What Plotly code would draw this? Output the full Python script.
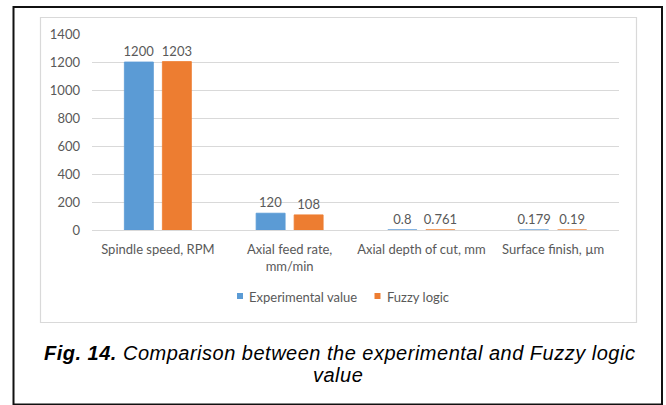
import plotly.graph_objects as go

# Parameters compared
categories = ["Spindle speed, RPM", "Axial feed rate,<br>mm/min",
              "Axial depth of cut, mm", "Surface finish, µm"]
experimental = [1200, 120, 0.8, 0.179]
fuzzy = [1203, 108, 0.761, 0.19]
series_names = ["Experimental value", "Fuzzy logic"]
y_ticks = [0, 200, 400, 600, 800, 1000, 1200, 1400]

W, H = 666, 405
# plot area in pixels
PL, PR, PT, PB = 92, 619, 34, 230
PW, PH = PR - PL, PB - PT


def px(x):
    return (x - PL) / PW


def py(y):
    return (PB - y) / PH


TXT = "#595959"
FONT = "Lato"
FS = 13
BLUE, ORANGE = "#5B9BD5", "#ED7D31"

fig = go.Figure()
for name, vals, col in [(series_names[0], experimental, BLUE),
                        (series_names[1], fuzzy, ORANGE)]:
    fig.add_trace(go.Bar(
        name=name, x=categories, y=vals,
        marker=dict(color=col, line=dict(color=col, width=0.8)),
        text=[str(v) for v in vals], textposition="outside",
        constraintext="none",
        textfont=dict(color=TXT, size=FS, family=FONT), cliponaxis=False,
        showlegend=False,
    ))

shapes = [
    # chart frame
    dict(type="rect", xref="paper", yref="paper",
         x0=px(40.5), x1=px(636.5), y0=py(17.5), y1=py(322.5),
         line=dict(color="#D9D9D9", width=1.2), fillcolor="rgba(0,0,0,0)"),
    # outer figure border
    dict(type="rect", xref="paper", yref="paper",
         x0=px(13.5), x1=px(662), y0=py(7), y1=py(404.5),
         line=dict(color="#111111", width=2), fillcolor="rgba(0,0,0,0)"),
    # legend swatches
    dict(type="rect", xref="paper", yref="paper",
         x0=px(237), x1=px(243), y0=py(293), y1=py(299),
         line=dict(width=0), fillcolor=BLUE),
    dict(type="rect", xref="paper", yref="paper",
         x0=px(374.5), x1=px(380.5), y0=py(293), y1=py(299),
         line=dict(width=0), fillcolor=ORANGE),
]

cap_font = dict(family="Liberation Sans", size=20, color="#000000")
annotations = [
    dict(xref="paper", yref="paper", x=px(247), y=py(296.5),
         xanchor="left", yanchor="middle", showarrow=False,
         text=series_names[0], font=dict(family=FONT, size=FS, color=TXT)),
    dict(xref="paper", yref="paper", x=px(385), y=py(296.5),
         xanchor="left", yanchor="middle", showarrow=False,
         text=series_names[1], font=dict(family=FONT, size=FS, color=TXT)),
    dict(xref="paper", yref="paper", x=px(339), y=py(352.5),
         xanchor="center", yanchor="middle", showarrow=False,
         text="<span style='letter-spacing:0.5px'><b><i>Fig. 14.</i></b>"
              "<i> Comparison between the experimental and Fuzzy logic</i></span>",
         font=cap_font),
    dict(xref="paper", yref="paper", x=px(338), y=py(374.5),
         xanchor="center", yanchor="middle", showarrow=False,
         text="<span style='letter-spacing:0.5px'><i>value</i></span>",
         font=cap_font),
]

fig.update_layout(
    width=W, height=H,
    margin=dict(l=PL, r=W - PR, t=PT, b=H - PB, autoexpand=False),
    paper_bgcolor="white", plot_bgcolor="white",
    barmode="group", bargap=0.423, bargroupgap=0.237,
    font=dict(family=FONT, color=TXT, size=FS),
    showlegend=False,
    shapes=shapes, annotations=annotations,
)
fig.update_xaxes(showgrid=False, showline=False, ticks="",
                 tickfont=dict(family=FONT, size=FS, color=TXT),
                 ticklabelstandoff=10)
fig.update_yaxes(range=[0, 1400], tickvals=y_ticks, showgrid=True,
                 gridcolor="#D9D9D9", gridwidth=1, zeroline=True,
                 zerolinecolor="#D9D9D9", zerolinewidth=1, showline=False,
                 ticks="", tickfont=dict(family=FONT, size=FS, color=TXT),
                 ticklabelstandoff=11)

fig.write_html("out.html")
